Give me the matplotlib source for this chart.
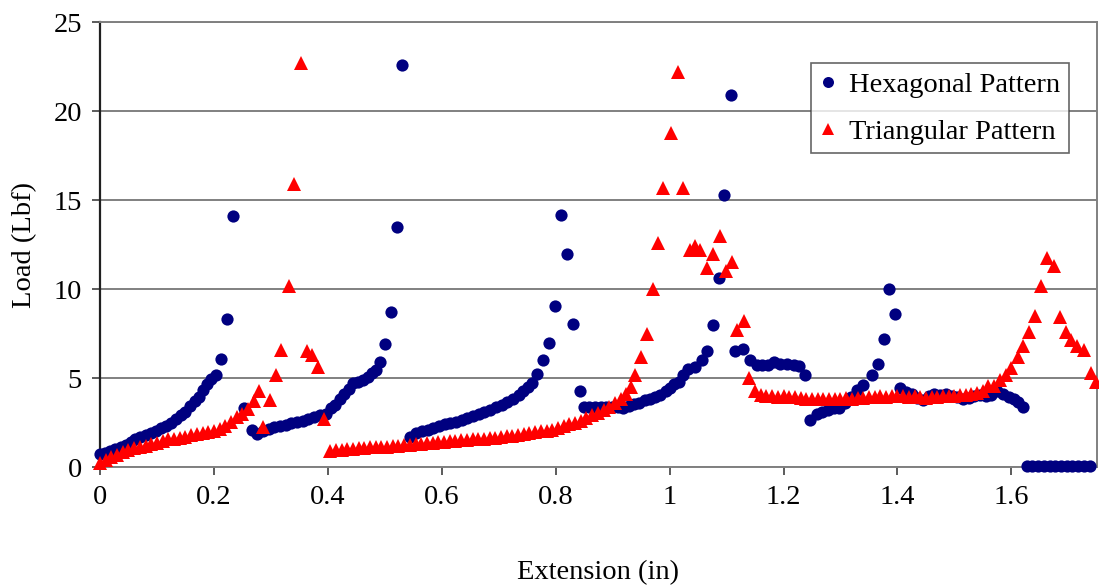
import matplotlib
matplotlib.use("Agg")
from matplotlib import pyplot as plt

# Hexagonal pattern (extension in, load lbf)
hex_x = [0.000, 0.009, 0.018, 0.027, 0.036, 0.045, 0.054, 0.062, 0.071, 0.080,
         0.089, 0.098, 0.107, 0.116, 0.125, 0.134, 0.142, 0.150, 0.158, 0.166,
         0.173, 0.181, 0.188, 0.195, 0.203, 0.213, 0.223, 0.233,
         0.253, 0.266, 0.276, 0.286, 0.296, 0.306, 0.316, 0.326, 0.336, 0.346,
         0.356, 0.366, 0.376, 0.386, 0.396, 0.405, 0.413, 0.421, 0.429, 0.437,
         0.445, 0.453, 0.461, 0.470, 0.478, 0.485, 0.492, 0.501, 0.511, 0.521,
         0.530,
         0.545, 0.555, 0.565, 0.575, 0.585, 0.595, 0.605, 0.615, 0.625, 0.635,
         0.645, 0.655, 0.665, 0.675, 0.685, 0.695, 0.705, 0.715, 0.725, 0.735,
         0.743, 0.751, 0.759, 0.768, 0.778, 0.789, 0.798, 0.809, 0.820, 0.830,
         0.843,
         0.849, 0.859, 0.869, 0.879, 0.889, 0.899, 0.909, 0.919, 0.928, 0.937,
         0.947, 0.957, 0.966, 0.975, 0.984, 0.993, 1.000, 1.008, 1.016, 1.024,
         1.033, 1.045, 1.057, 1.066, 1.077, 1.086, 1.096, 1.108,
         1.115, 1.128, 1.141, 1.153, 1.163, 1.173, 1.183, 1.194, 1.206, 1.218,
         1.228, 1.237,
         1.247, 1.258, 1.268, 1.278, 1.288, 1.298, 1.308, 1.318, 1.329, 1.340,
         1.355, 1.366, 1.376, 1.385, 1.396,
         1.405, 1.415, 1.425, 1.435, 1.445, 1.455, 1.465, 1.475, 1.485, 1.495,
         1.505, 1.515, 1.525, 1.535, 1.545, 1.555, 1.565, 1.575, 1.585, 1.595,
         1.605, 1.612, 1.620,
         1.627, 1.637, 1.647, 1.657, 1.667, 1.677, 1.687, 1.697, 1.707, 1.717,
         1.727, 1.738]
hex_y = [0.75, 0.8, 0.9, 1.0, 1.1, 1.25, 1.4, 1.55, 1.7, 1.8,
         1.9, 2.05, 2.2, 2.3, 2.5, 2.7, 2.9, 3.1, 3.45, 3.7,
         3.95, 4.35, 4.65, 4.95, 5.2, 6.1, 8.3, 14.1,
         3.3, 2.1, 1.85, 2.0, 2.15, 2.25, 2.3, 2.35, 2.45, 2.55,
         2.6, 2.7, 2.8, 2.9, 3.0, 3.3, 3.5, 3.8, 4.1, 4.4,
         4.7, 4.8, 4.9, 5.05, 5.3, 5.45, 5.9, 6.9, 8.7, 13.5,
         22.6,
         1.7, 1.9, 2.0, 2.1, 2.2, 2.3, 2.4, 2.5, 2.55, 2.65,
         2.75, 2.85, 3.0, 3.1, 3.2, 3.35, 3.5, 3.65, 3.85, 4.05,
         4.3, 4.5, 4.75, 5.25, 6.0, 7.0, 9.05, 14.15, 11.95, 8.05,
         4.3,
         3.4, 3.4, 3.4, 3.4, 3.4, 3.35, 3.35, 3.3, 3.45, 3.55,
         3.6, 3.75, 3.85, 3.95, 4.05, 4.25, 4.45, 4.65, 4.8, 5.15,
         5.5, 5.65, 6.0, 6.55, 8.0, 10.6, 15.3, 20.9,
         6.55, 6.65, 6.0, 5.75, 5.75, 5.75, 5.9, 5.8, 5.8, 5.75,
         5.7, 5.2,
         2.65, 3.0, 3.1, 3.2, 3.3, 3.3, 3.6, 3.95, 4.35, 4.6,
         5.2, 5.8, 7.2, 10.0, 8.6,
         4.42, 4.2, 4.1, 3.9, 3.75, 4.0, 4.1, 4.05, 4.1, 4.0,
         3.95, 3.85, 3.9, 4.0, 4.05, 4.0, 4.05, 4.25, 4.1, 3.95,
         3.8, 3.65, 3.4,
         0.08, 0.08, 0.08, 0.08, 0.08, 0.08, 0.08, 0.08, 0.08, 0.08,
         0.08, 0.08]

# Triangular pattern
tri_x = [0.00, 0.01, 0.02, 0.03, 0.04, 0.05, 0.06, 0.07, 0.08, 0.09,
         0.10, 0.11, 0.12, 0.13, 0.14, 0.15, 0.16, 0.17, 0.18, 0.19,
         0.20, 0.21, 0.22, 0.23, 0.24, 0.25, 0.26, 0.27, 0.28,
         0.287, 0.299, 0.309, 0.318, 0.332, 0.341, 0.353, 0.363, 0.373, 0.383,
         0.394,
         0.404, 0.414, 0.424, 0.434, 0.444, 0.454, 0.464, 0.474, 0.484, 0.494,
         0.504, 0.514, 0.524, 0.534, 0.544, 0.554, 0.564, 0.574, 0.584, 0.594,
         0.604, 0.614, 0.624, 0.634, 0.644, 0.654, 0.664, 0.674, 0.684, 0.694,
         0.704, 0.714, 0.724, 0.734, 0.744, 0.754, 0.764, 0.774, 0.784, 0.794,
         0.804, 0.814, 0.824, 0.834, 0.844, 0.854, 0.864, 0.874, 0.884, 0.894,
         0.904, 0.914, 0.924, 0.932, 0.940, 0.950, 0.960, 0.970, 0.979, 0.989,
         1.002, 1.014, 1.024, 1.036, 1.045, 1.054, 1.065, 1.077, 1.088, 1.099,
         1.109, 1.118, 1.130, 1.140, 1.150,
         1.16, 1.17, 1.18, 1.19, 1.20, 1.21, 1.22, 1.23, 1.24, 1.25,
         1.26, 1.27, 1.28, 1.29, 1.30, 1.31, 1.32, 1.33, 1.34, 1.35,
         1.36, 1.37, 1.38, 1.39, 1.40, 1.41, 1.42, 1.43, 1.44, 1.45,
         1.46, 1.47, 1.48, 1.49, 1.50, 1.51, 1.52, 1.53, 1.54, 1.55,
         1.559, 1.569, 1.580, 1.591, 1.600, 1.611, 1.620, 1.631, 1.642, 1.652,
         1.663, 1.674, 1.686, 1.696, 1.705, 1.715, 1.727, 1.740, 1.748]
tri_y = [0.2, 0.4, 0.55, 0.7, 0.85, 0.95, 1.05, 1.15, 1.2, 1.3,
         1.35, 1.45, 1.55, 1.6, 1.65, 1.7, 1.8, 1.85, 1.9, 1.95,
         2.05, 2.15, 2.3, 2.55, 2.8, 3.0, 3.25, 3.7, 4.3,
         2.26, 3.76, 5.2, 6.6, 10.2, 15.9, 22.7, 6.5, 6.3, 5.6,
         2.7,
         0.9, 0.95, 0.95, 1.0, 1.0, 1.05, 1.05, 1.1, 1.1, 1.15,
         1.15, 1.2, 1.2, 1.25, 1.25, 1.3, 1.3, 1.35, 1.35, 1.4,
         1.4, 1.45, 1.45, 1.5, 1.5, 1.55, 1.6, 1.6, 1.65, 1.65,
         1.7, 1.75, 1.75, 1.8, 1.85, 1.9, 1.95, 2.0, 2.05, 2.1,
         2.2, 2.3, 2.4, 2.5, 2.6, 2.75, 2.9, 3.05, 3.2, 3.4,
         3.6, 3.8, 4.1, 4.5, 5.2, 6.2, 7.5, 10.0, 12.6, 15.7,
         18.8, 22.2, 15.7, 12.2, 12.4, 12.2, 11.2, 12.0, 13.0, 11.0,
         11.5, 7.7, 8.2, 5.0, 4.25,
         4.05, 4.0, 4.0, 3.95, 4.0, 3.95, 3.95, 3.9, 3.85, 3.8,
         3.8, 3.85, 3.8, 3.85, 3.85, 3.9, 3.85, 3.9, 3.9, 3.95,
         3.95, 4.0, 3.95, 4.0, 4.0, 4.0, 3.95, 4.0, 3.95, 3.9,
         3.95, 3.95, 4.0, 4.0, 4.0, 4.05, 4.05, 4.1, 4.15, 4.3,
         4.55, 4.55, 4.9, 5.2, 5.55, 6.2, 6.8, 7.6, 8.5, 10.2,
         11.75, 11.3, 8.45, 7.6, 7.15, 6.8, 6.6, 5.3, 4.8]

x_ticks = [0, 0.2, 0.4, 0.6, 0.8, 1.0, 1.2, 1.4, 1.6]
x_tick_labels = ["0", "0.2", "0.4", "0.6", "0.8", "1", "1.2", "1.4", "1.6"]
y_ticks = [0, 5, 10, 15, 20, 25]

plt.rcParams['font.family'] = ['Liberation Serif', 'DejaVu Serif']

fig = plt.figure(figsize=(10.99, 5.86), dpi=100)
ax = fig.add_axes([0.091, 0.203, 0.907, 0.759])

ax.plot(hex_x, hex_y, linestyle="none", marker="o", ms=8.8, color="#000080",
        markeredgewidth=0, clip_on=False, label="Hexagonal Pattern", zorder=3)
ax.plot(tri_x, tri_y, linestyle="none", marker="^", ms=9.8, color="#ff0000",
        markeredgewidth=0, clip_on=False, label="Triangular Pattern", zorder=4)

ax.set_xlim(0, 1.75)
ax.set_ylim(0, 25)
ax.set_xticks(x_ticks)
ax.set_xticklabels(x_tick_labels)
ax.set_yticks(y_ticks)
ax.yaxis.grid(True, color="#808080", linewidth=1.4)
ax.set_axisbelow(True)
ax.tick_params(axis="both", labelsize=20.5, direction="out", length=6, width=1.2,
               color="#404040", pad=7)

for side in ["top", "right", "bottom"]:
    ax.spines[side].set_color("#808080")
    ax.spines[side].set_linewidth(1.4)
ax.spines["left"].set_color("#202020")
ax.spines["left"].set_linewidth(1.6)

ax.set_xlabel("Extension (in)", fontsize=20.5, labelpad=36)
ax.set_ylabel("Load (Lbf)", fontsize=20.5, labelpad=12)

# legend box como en el original
leg = ax.legend(loc="upper right", bbox_to_anchor=(0.972, 0.908), fontsize=20.5,
                frameon=True, fancybox=False, numpoints=1, handlelength=0.6,
                handletextpad=0.45, borderpad=0.3, labelspacing=0.75,
                markerscale=0.9, borderaxespad=0)
leg.get_frame().set_edgecolor("#404040")
leg.get_frame().set_linewidth(1.2)

fig.savefig("out.png", dpi=100)
